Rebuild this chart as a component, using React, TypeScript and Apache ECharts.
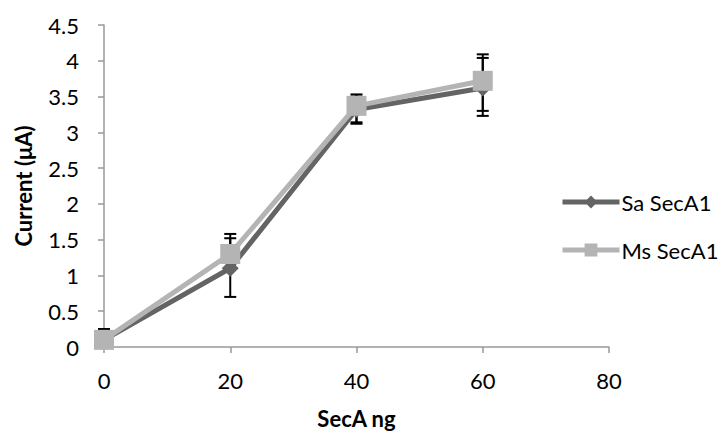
import React, { useEffect, useRef } from "react";
import * as echarts from "echarts";

const xValues = [0, 20, 40, 60];
const saValues = [0.1, 1.1, 3.32, 3.62];
const saLow = [0.1, 0.7, 3.12, 3.23];
const saHigh = [0.25, 1.52, 3.5, 4.04];
const msValues = [0.1, 1.3, 3.37, 3.72];
const msLow = [0.1, 1.3, 3.14, 3.3];
const msHigh = [0.25, 1.58, 3.53, 4.09];

const FONT = "Lato, 'Open Sans', sans-serif";

function errSeries(name: string, low: number[], high: number[]) {
  return {
    type: "custom",
    name: name + "err",
    z: 1,
    silent: true,
    data: xValues.map((x, i) => [x, low[i], high[i]]),
    renderItem: (params: any, api: any) => {
      const x = api.value(0);
      const lo = api.coord([x, api.value(1)]);
      const hi = api.coord([x, api.value(2)]);
      const w = 6;
      const style = { stroke: "#000", lineWidth: 2 };
      return {
        type: "group",
        children: [
          { type: "line", shape: { x1: lo[0], y1: lo[1], x2: hi[0], y2: hi[1] }, style },
          { type: "line", shape: { x1: lo[0] - w, y1: lo[1], x2: lo[0] + w, y2: lo[1] }, style },
          { type: "line", shape: { x1: hi[0] - w, y1: hi[1], x2: hi[0] + w, y2: hi[1] }, style },
        ],
      };
    },
  };
}

export default function App() {
  const ref = useRef<HTMLDivElement>(null);
  useEffect(() => {
    const chart = echarts.init(ref.current!, null, { renderer: "svg" });
    chart.setOption({
      animation: false,
      backgroundColor: "#fff",
      grid: { left: 104, right: 114, top: 25, bottom: 90 },
      legend: {
        orient: "vertical",
        left: 555,
        top: 185,
        itemGap: 24,
        itemWidth: 57,
        itemHeight: 16,
        lineStyle: { width: 5 },
        textStyle: { fontFamily: FONT, fontSize: 22, lineHeight: 24, color: "#000", padding: [0, 0, 0, -3] },
        data: ["Sa SecA1", "Ms SecA1"],
      },
      xAxis: {
        type: "value",
        min: 0,
        max: 80,
        interval: 20,
        name: "SecA ng",
        nameLocation: "middle",
        nameGap: 60,
        nameTextStyle: { fontFamily: FONT, fontSize: 22, fontWeight: "bold", color: "#000" },
        axisLine: { lineStyle: { color: "#999", width: 1.5 } },
        axisTick: { show: true, length: 6, lineStyle: { color: "#999", width: 1.5 } },
        axisLabel: { fontFamily: FONT, fontSize: 22, color: "#000", margin: 22 },
        splitLine: { show: false },
      },
      yAxis: {
        type: "value",
        min: 0,
        max: 4.5,
        interval: 0.5,
        name: "Current (μA)",
        nameLocation: "middle",
        nameGap: 70,
        nameTextStyle: { fontFamily: FONT, fontSize: 22, fontWeight: "bold", color: "#000" },
        axisLine: { show: true, lineStyle: { color: "#999", width: 1.5 } },
        axisTick: { show: true, length: 6, lineStyle: { color: "#999", width: 1.5 } },
        axisLabel: { fontFamily: FONT, fontSize: 22, color: "#000", margin: 25 },
        splitLine: { show: false },
      },
      series: [
        errSeries("Sa", saLow, saHigh),
        errSeries("Ms", msLow, msHigh),
        {
          type: "line",
          name: "Sa SecA1",
          z: 3,
          data: xValues.map((x, i) => [x, saValues[i]]),
          symbol: "diamond",
          symbolSize: 17,
          lineStyle: { color: "#646464", width: 5 },
          itemStyle: { color: "#646464" },
        },
        {
          type: "line",
          name: "Ms SecA1",
          z: 4,
          data: xValues.map((x, i) => [x, msValues[i]]),
          symbol: "rect",
          symbolSize: 20,
          lineStyle: { color: "#b4b4b4", width: 5 },
          itemStyle: { color: "#b4b4b4" },
        },
      ],
    });
    return () => chart.dispose();
  }, []);
  return <div ref={ref} style={{ width: 723, height: 437, position: "absolute", left: 0, top: 0 }} />;
}
